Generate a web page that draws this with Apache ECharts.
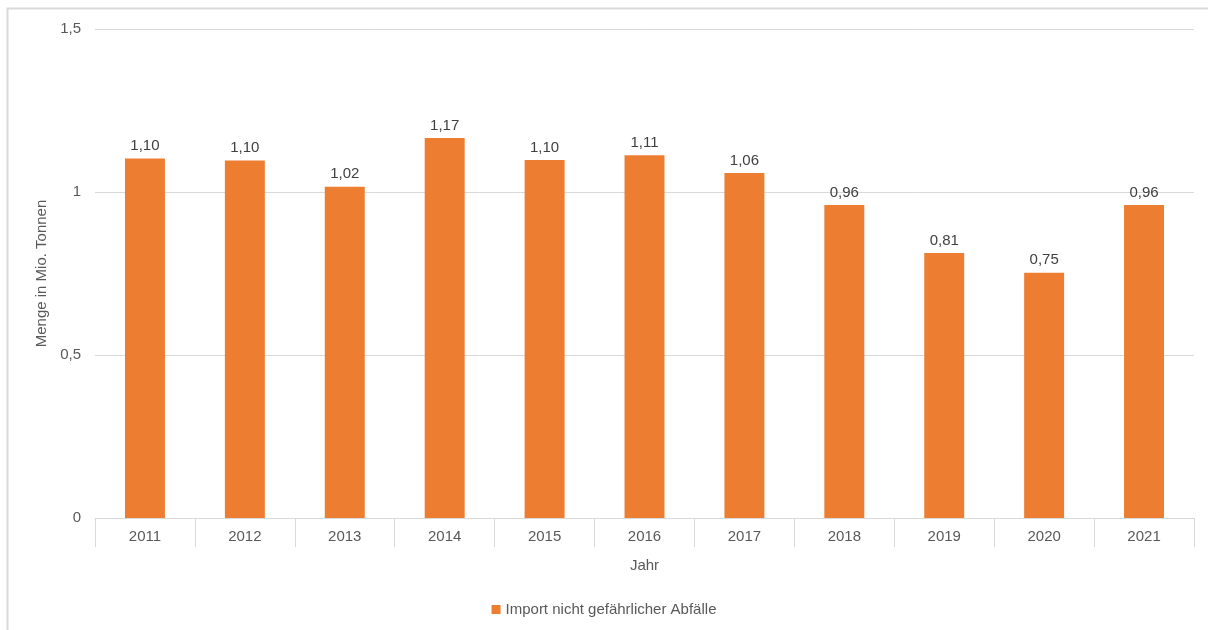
<!DOCTYPE html>
<html><head><meta charset="utf-8">
<script src="https://cdn.jsdelivr.net/npm/echarts@6/dist/echarts.min.js"></script>
<style>html,body{margin:0;padding:0;background:#fff}#c{width:1208px;height:630px}</style>
</head><body><div id="c"></div>
<script>
const categories = ['2011','2012','2013','2014','2015','2016','2017','2018','2019','2020','2021'];
const values = [1.103, 1.097, 1.016, 1.166, 1.098, 1.113, 1.058, 0.960, 0.813, 0.752, 0.960];
const seriesName = 'Import nicht gefährlicher Abfälle';
const yTicks = [0, 0.5, 1, 1.5];

const fmt = v => String(v).replace('.', ',');
const chart = echarts.init(document.getElementById('c'));
const txt = '#595959';
const ff = '"Liberation Sans", Arial, sans-serif';
chart.setOption({
  animation: false,
  textStyle: {fontFamily: ff},
  graphic: [{type:'rect', shape:{x:7.5,y:8.5,width:1210,height:640}, style:{fill:'none', stroke:'#d9d9d9', lineWidth:2}, silent:true}],
  grid: {left: 95, right: 14, top: 29, bottom: 112},
  legend: {bottom: 8, left: 'center', itemWidth: 9, itemHeight: 9, icon: 'rect', itemGap: 4,
    textStyle: {color: txt, fontSize: 15, fontFamily: ff}, data: [seriesName]},
  xAxis: {type: 'category', data: categories, name: 'Jahr', nameLocation: 'middle', nameGap: 40,
    nameTextStyle: {color: txt, fontSize: 15, fontFamily: ff},
    axisLine: {lineStyle: {color: '#d9d9d9', width: 1}},
    axisTick: {show: true, length: 29, lineStyle: {color: '#d9d9d9'}},
    axisLabel: {color: txt, fontSize: 15, margin: 11, fontFamily: ff}},
  yAxis: {type: 'value', min: yTicks[0], max: yTicks[yTicks.length-1], interval: 0.5,
    name: 'Menge in Mio. Tonnen', nameLocation: 'middle', nameGap: 43,
    nameTextStyle: {color: txt, fontSize: 15, fontFamily: ff},
    axisLine: {show: false}, axisTick: {show: false},
    axisLabel: {color: txt, fontSize: 15, margin: 14, fontFamily: ff, formatter: v => fmt(v)},
    splitLine: {lineStyle: {color: '#d9d9d9', width: 1}}},
  series: [{name: seriesName, type: 'bar', data: values, barWidth: '40%',
    itemStyle: {color: '#ED7D31'},
    label: {show: true, position: 'top', distance: 5, color: '#404040', fontSize: 15, fontFamily: ff,
      formatter: p => p.value.toFixed(2).replace('.', ',')}}]
});
</script></body></html>
